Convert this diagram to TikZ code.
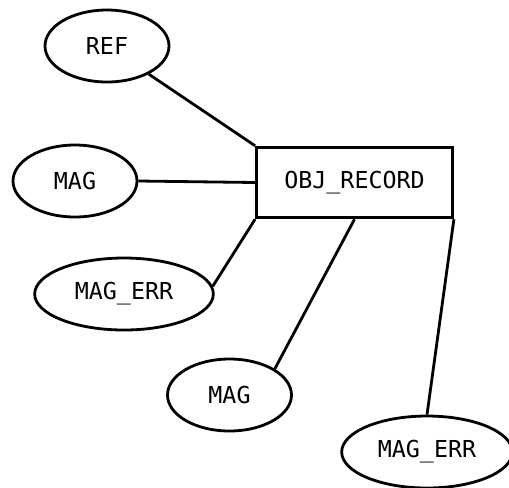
\documentclass[tikz,border=0pt]{standalone}
\usepackage{fontspec}
\newfontfamily\attrfont{DejaVu Sans Mono}
\usetikzlibrary{shapes}

\begin{document}
\begin{tikzpicture}[
x=0.75pt, y=-0.75pt,
attr/.style = {% attribute ellipses
    ellipse, draw, line width=2.1pt, inner sep=0pt,
    minimum width=93pt, minimum height=54pt,
    font=\attrfont\fontsize{17.5}{20}\selectfont,
            },
wide/.style = {attr, minimum width=134pt},
ent/.style = {% entity box
    rectangle, draw, line width=2.1pt, inner sep=0pt,
    minimum width=147pt, minimum height=53pt,
    font=\attrfont\fontsize{17.5}{20}\selectfont,
            },
link/.style = {line width=2.1pt},
                        ]
\useasboundingbox (0,0) rectangle (509,487);
% entity
\node[ent] (rec) at (354.5,182.5) {OBJ\_RECORD};
% attributes
\node[attr] (ref)   at (107,46)    {REF};
\node[attr] (mag1)  at (75,181)    {MAG};
\node[wide] (merr1) at (124,294)   {MAG\_ERR};
\node[attr] (mag2)  at (229.5,395) {MAG};
\node[wide, minimum width=128pt] (merr2) at (427,452) {MAG\_ERR};
% links
\draw[link] (ref) -- (rec.north west);
\draw[link] (mag1.east) -- (rec.west);
\draw[link] (merr1.5) -- (rec.south west);
\draw[link] (mag2.30) -- (rec.south);
\draw[link] (merr2.north) -- (rec.south east);
\end{tikzpicture}
\end{document}
